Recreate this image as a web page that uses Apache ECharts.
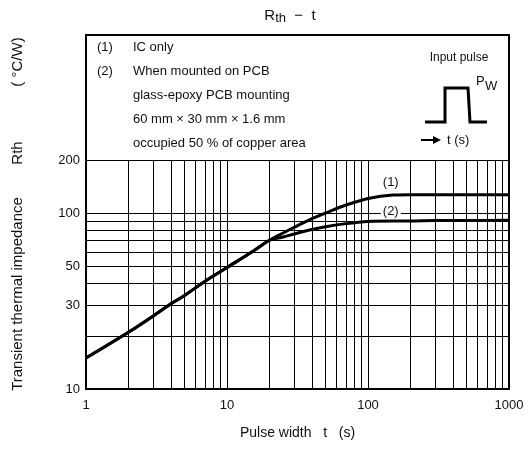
<!DOCTYPE html>
<html>
<head>
<meta charset="utf-8">
<script src="https://cdn.jsdelivr.net/npm/echarts@6/dist/echarts.min.js"></script>
<style>
  html, body { margin: 0; padding: 0; background: #fff; }
  #chart { width: 529px; height: 449px; }
</style>
</head>
<body>
<div id="chart"></div>
<script>
// pulse width t (s)
const pulseWidth = [1, 2, 3, 4, 5, 7, 10, 15, 20, 25, 30, 40, 50, 70, 100, 150, 200, 300, 500, 1000]
// (1) IC only, Rth (°C/W)
const rthIcOnly = [15, 21, 26, 30.5, 34, 41, 49, 60, 70, 77, 83, 93, 100, 111, 121, 126.5, 127, 127, 127, 127]
// (2) mounted on PCB, Rth (°C/W)
const rthOnPcb = [15, 21, 26, 30.5, 34, 41, 49, 60, 70, 73, 76, 80.5, 83.5, 87, 89.5, 90, 90, 90.5, 90.5, 91]

// grid lines and tick labels
const xGridValues = [1, 2, 3, 4, 5, 6, 7, 8, 9, 10, 20, 30, 40, 50, 60, 70, 80, 90, 100, 200, 300, 400, 500, 600, 700, 800, 900, 1000]
const xLabelValues = [1, 10, 100, 1000]
const yGridValues = [10, 20, 30, 40, 50, 60, 70, 80, 90, 100, 200]
const yLabelValues = [10, 30, 50, 100, 200]

const noteLines = [
  ['(1)', 'IC only'],
  ['(2)', 'When mounted on PCB'],
  ['', 'glass-epoxy PCB mounting'],
  ['', '60 mm \u00d7 30 mm \u00d7 1.6 mm'],
  ['', 'occupied 50 % of copper area']
]

const font = 'Liberation Sans, Arial, sans-serif'
const chart = echarts.init(document.getElementById('chart'))

const pairs = arr => pulseWidth.map((t, i) => [t, arr[i]])

const graphic = [
  {
    type: 'rect',
    z: 100,
    shape: { x: 86, y: 35, width: 423, height: 354 },
    style: { fill: 'none', stroke: '#000', lineWidth: 2 }
  },
  {
    type: 'text',
    x: 290, y: 16,
    style: {
      text: 'R{s|th}  \u2212  t',
      font: '15px ' + font,
      fill: '#111',
      align: 'center',
      verticalAlign: 'middle',
      rich: { s: { fontSize: 13, fontFamily: font, padding: [5, 0, 0, 0] } }
    }
  },
  // y axis title pieces (rotated)
  {
    type: 'text', x: 18, y: 294, rotation: Math.PI / 2,
    style: { text: 'Transient thermal impedance', font: '15px ' + font, fill: '#111', align: 'center', verticalAlign: 'middle' }
  },
  {
    type: 'text', x: 18, y: 153, rotation: Math.PI / 2,
    style: { text: 'Rth', font: '15px ' + font, fill: '#111', align: 'center', verticalAlign: 'middle' }
  },
  {
    type: 'text', x: 18, y: 62, rotation: Math.PI / 2,
    style: { text: '( \u00b0C/W)', font: '15px ' + font, fill: '#111', align: 'center', verticalAlign: 'middle' }
  },
  // input pulse sketch
  {
    type: 'text', x: 459, y: 58,
    style: { text: 'Input pulse', font: '12px ' + font, fill: '#111', align: 'center', verticalAlign: 'middle' }
  },
  {
    type: 'polyline',
    shape: { points: [[425, 122], [445, 122], [445, 88], [468, 88], [470, 122], [487, 122]] },
    style: { stroke: '#000', lineWidth: 3, fill: 'none' }
  },
  {
    type: 'text', x: 476, y: 81,
    style: { text: 'P', font: '13px ' + font, fill: '#111', verticalAlign: 'middle' }
  },
  {
    type: 'text', x: 485, y: 86,
    style: { text: 'W', font: '13px ' + font, fill: '#111', verticalAlign: 'middle' }
  },
  {
    type: 'line',
    shape: { x1: 421, y1: 140, x2: 434, y2: 140 },
    style: { stroke: '#000', lineWidth: 2 }
  },
  {
    type: 'polygon',
    shape: { points: [[433, 136], [441, 140], [433, 144]] },
    style: { fill: '#000' }
  },
  {
    type: 'text', x: 447, y: 140,
    style: { text: 't (s)', font: '13px ' + font, fill: '#111', verticalAlign: 'middle' }
  }
]

noteLines.forEach((ln, i) => {
  const y = 47 + i * 24
  if (ln[0]) {
    graphic.push({
      type: 'text', x: 97, y: y,
      style: { text: ln[0], font: '13px ' + font, fill: '#111', verticalAlign: 'middle' }
    })
  }
  graphic.push({
    type: 'text', x: 133, y: y,
    style: { text: ln[1], font: '13px ' + font, fill: '#111', verticalAlign: 'middle' }
  })
})

chart.setOption({
  backgroundColor: '#fff',
  animation: false,
  grid: { left: 86, right: 20, top: 160, bottom: 60, containLabel: false },
  xAxis: {
    type: 'log',
    logBase: 10,
    min: 1,
    max: 1000,
    name: 'Pulse width   t   (s)',
    nameLocation: 'middle',
    nameGap: 37,
    nameTextStyle: { fontFamily: font, fontSize: 14, color: '#111' },
    axisLine: { lineStyle: { color: '#000', width: 2 } },
    axisTick: { show: false, customValues: xGridValues },
    axisLabel: {
      customValues: xLabelValues,
      formatter: v => String(Math.round(v)),
      margin: 10,
      fontFamily: font,
      fontSize: 13,
      color: '#111'
    },
    splitLine: { show: true, lineStyle: { color: '#000', width: 1 } }
  },
  yAxis: {
    type: 'log',
    logBase: 10,
    min: 10,
    max: 200,
    axisLine: { show: true, lineStyle: { color: '#000', width: 2 } },
    axisTick: { show: false, customValues: yGridValues },
    axisLabel: {
      customValues: yLabelValues,
      formatter: v => String(Math.round(v)),
      margin: 6,
      fontFamily: font,
      fontSize: 13,
      color: '#111'
    },
    splitLine: { show: true, lineStyle: { color: '#000', width: 1 } }
  },
  series: [
    {
      name: '(1)',
      type: 'line',
      data: pairs(rthIcOnly),
      smooth: 0.3,
      showSymbol: false,
      lineStyle: { color: '#000', width: 3 },
      z: 5,
      markPoint: {
        symbol: 'rect',
        symbolSize: [20, 13],
        itemStyle: { color: 'rgba(255,255,255,0)' },
        label: { show: true, position: 'inside', formatter: '(1)', fontFamily: font, fontSize: 13, color: '#111' },
        data: [{ coord: [145, 149] }]
      }
    },
    {
      name: '(2)',
      type: 'line',
      data: pairs(rthOnPcb),
      smooth: 0.3,
      showSymbol: false,
      lineStyle: { color: '#000', width: 3 },
      z: 5,
      markPoint: {
        symbol: 'rect',
        symbolSize: [20, 13],
        itemStyle: { color: '#fff' },
        label: { show: true, position: 'inside', formatter: '(2)', fontFamily: font, fontSize: 13, color: '#111' },
        data: [{ coord: [145, 102] }]
      }
    }
  ],
  graphic: graphic
})
</script>
</body>
</html>
